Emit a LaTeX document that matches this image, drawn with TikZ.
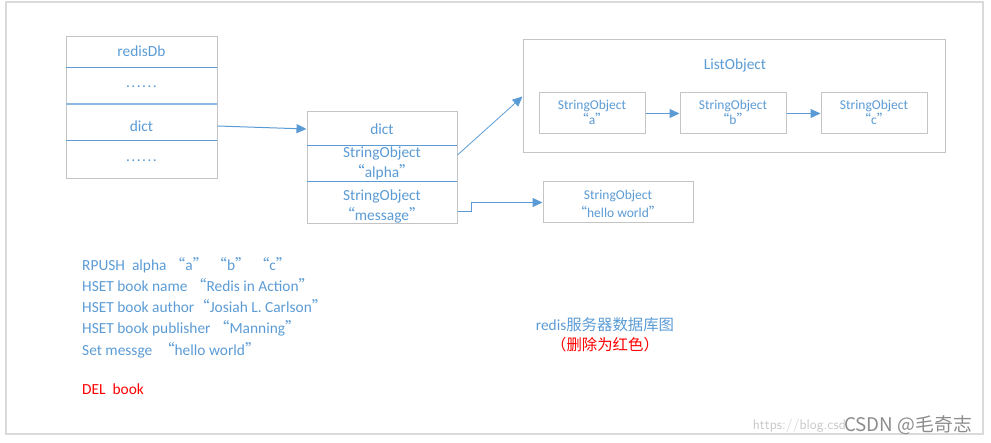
\documentclass[tikz,border=0pt]{standalone}
\usepackage{fontspec}
\setmainfont{Carlito}
\newfontfamily\cjk{Noto Sans CJK SC}
\usetikzlibrary{arrows.meta,calc}
\definecolor{ob}{HTML}{5B9BD5}
\definecolor{bd}{HTML}{C4C4C4}
\definecolor{frame}{HTML}{DADADA}
\newcommand\myoq{{\cjk “}}
\newcommand\mycq{{\cjk ”}}
\newcommand\mydots{.\kern1.5pt.\kern1.5pt.\kern1.5pt.\kern1.5pt.\kern1.5pt.}
\begin{document}
\begin{tikzpicture}[x=1pt,y=-1pt,
  box/.style={draw=bd, line width=1pt, fill=white, inner sep=0pt},
  txt/.style={text=ob, font=\fontsize{15.4}{18}\selectfont, inner sep=0pt},
  small/.style={text=ob, font=\fontsize{13.5}{15.5}\selectfont, inner sep=0pt, align=center},
  mid/.style={text=ob, font=\fontsize{15.4}{19.5}\selectfont, inner sep=0pt, align=center},
  div/.style={draw=ob, line width=0.9pt},
  conn/.style={draw=ob, line width=1pt, -{Triangle[length=10pt,width=9pt]}}]
\useasboundingbox (0,0) rectangle (991,443);
\draw[frame, line width=1.5pt] (6,2) rectangle (983,434);

% redisDb
\node[box, minimum width=151pt, minimum height=142pt] (db) at (141.5,108) {};
\draw[div] (66,67) -- (217,67);
\draw[div, line width=1.6pt, ob!70] (66,104) -- (217,104);
\draw[div] (66,140) -- (217,140);
\node[txt] (dbname) at (141.5,51) {redisDb};
\node[txt] (dbdots1) at (141.5,87) {\mydots};
\node[txt] (dbdict) at (141.5,126) {dict};
\node[txt] (dbdots2) at (141.5,161) {\mydots};

% dict
\node[box, minimum width=150pt, minimum height=112pt] (dict) at (382,168) {};
\draw[div] (307,145) -- (457,145);
\draw[div] (307,181) -- (457,181);
\node[txt] (dicthead) at (382,129) {dict};
\node[mid] (alpha) at (382,163.5) {StringObject\\\myoq alpha\mycq};
\node[mid] (msg) at (382,206.5) {StringObject\\\myoq message\mycq};

% ListObject
\node[box, minimum width=422pt, minimum height=113pt] (list) at (734,96.5) {};
\node[txt] (listname) at (735,65) {ListObject};
\node[box, minimum width=106pt, minimum height=41pt] (sa) at (592,113.5) {};
\node[box, minimum width=106pt, minimum height=41pt] (sb) at (733,113.5) {};
\node[box, minimum width=106pt, minimum height=41pt] (sc) at (874,113.5) {};
\node[small] (ta) at (592,112.5) {StringObject\\\myoq a\mycq};
\node[small] (tb) at (733,112.5) {StringObject\\\myoq b\mycq};
\node[small] (tc) at (874,112.5) {StringObject\\\myoq c\mycq};

% hello world
\node[box, minimum width=150pt, minimum height=41pt] (hw) at (618,202.5) {};
\node[small, font=\fontsize{13.5}{18}\selectfont] (thw) at (618,203.5) {StringObject\\\myoq hello world\mycq};

% connectors
\draw[conn] (db.east |- dbdict) -- (dict.west |- dicthead);
\draw[conn, line width=0.8pt] ($(dict.east)+(0,-13)$) -- (list.west);
\draw[conn] (sa.east) -- (sb.west);
\draw[conn] (sb.east) -- (sc.west);
\draw[conn] ($(dict.east)+(0,44)$) -- ++(14,0) |- (hw.west);

% command text
\node[txt, anchor=west, align=left, font=\fontsize{15.4}{21.2}\selectfont] (cmds) at (82,307.5) {RPUSH\ \ alpha \myoq a\mycq\ \myoq b\mycq\ \myoq c\mycq\\
HSET book name \myoq Redis in Action\mycq\\
HSET book author\myoq Josiah L. Carlson\mycq\\
HSET book publisher \myoq Manning\mycq\\
Set messge\ \ \myoq hello world\mycq};
\node[txt, anchor=west, text=red] (del) at (82,389) {DEL\ \ book};

% caption
\node[txt] (cap1) at (605,325) {redis{\cjk 服务器数据库图}};
\node[txt, text=red] (cap2) at (605,345) {{\cjk （删除为红色）}};

% watermark
\node[anchor=east, text=black!22, font=\fontsize{14}{16}\selectfont\sffamily, inner sep=0pt] (url) at (846,426) {https://blog.csd};
\node[anchor=west, text=black!45, font=\cjk\fontsize{18.8}{20}\selectfont, inner sep=0pt] (wm) at (844,425) {CSDN @毛奇志};
\end{tikzpicture}
\end{document}
